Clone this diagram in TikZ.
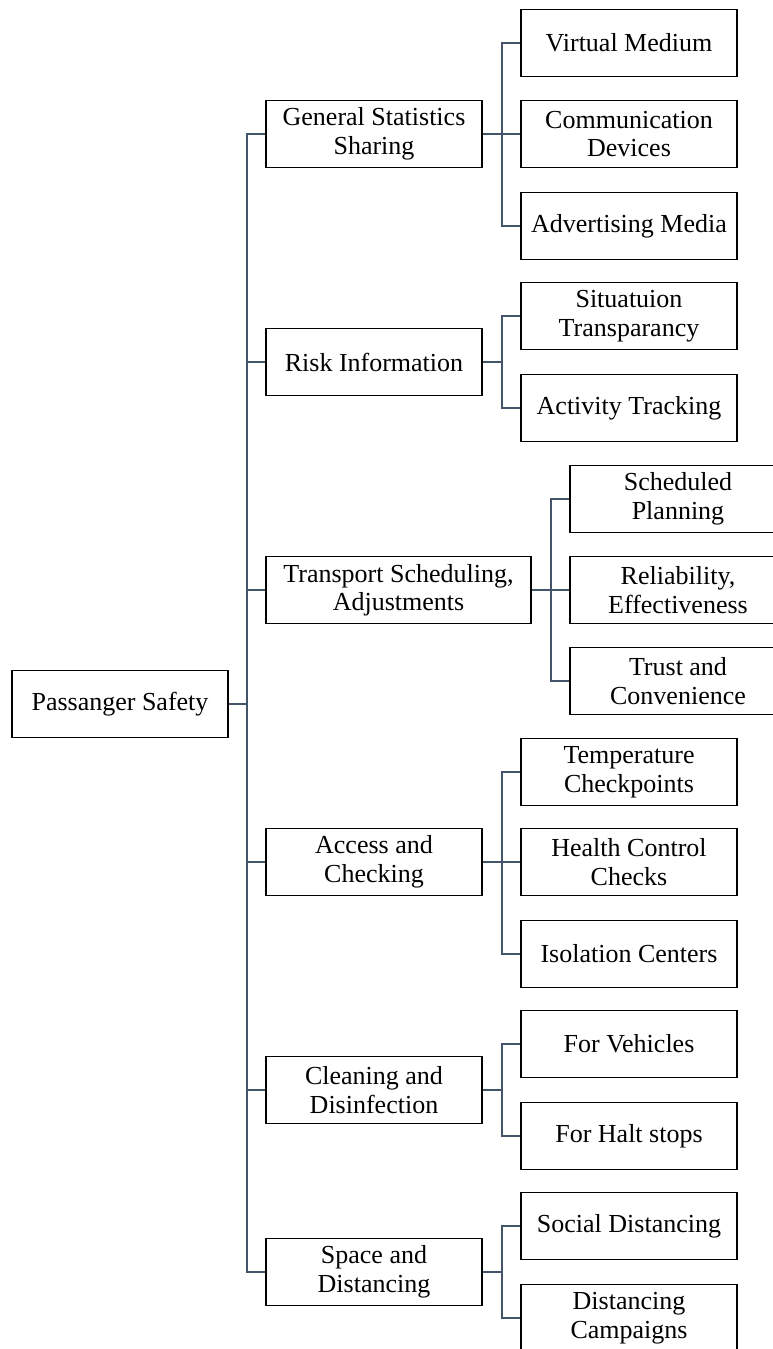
\documentclass[tikz,border=0pt]{standalone}
\usepackage{fontspec}
\setmainfont{Liberation Serif}
\definecolor{linec}{HTML}{44546A}
\begin{document}
\begin{tikzpicture}[x=1pt,y=-1pt,
  box/.style={draw=black,line width=1.8pt,fill=white,minimum width=216pt,minimum height=67pt,
    align=center,inner sep=0pt,font=\fontsize{26}{28.5}\selectfont},
  wbox/.style={box,minimum width=265pt},
  conn/.style={draw=linec,line width=2.6pt}]
\useasboundingbox (0,0) rectangle (773,1349);
% root
\node[box] (root) at (120,704) {Passanger Safety};
% level 1
\node[box] (g1) at (374,134) {General Statistics\\Sharing};
\node[box] (g2) at (374,362) {Risk Information};
\node[wbox] (g3) at (398.5,590) {Transport Scheduling,\\Adjustments};
\node[box] (g4) at (374,862) {Access and\\Checking};
\node[box] (g5) at (374,1090) {Cleaning and\\Disinfection};
\node[box] (g6) at (374,1272) {Space and\\Distancing};
% level 2
\node[box] (c11) at (629,43) {Virtual Medium};
\node[box] (c12) at (629,134) {Communication\\Devices};
\node[box] (c13) at (629,226) {Advertising Media};
\node[box] (c21) at (629,316) {Situatuion\\Transparancy};
\node[box] (c22) at (629,408) {Activity Tracking};
\node[box] (c31) at (678,499) {Scheduled\\Planning};
\node[box] (c32) at (678,590) {Reliability,\\Effectiveness};
\node[box] (c33) at (678,681) {Trust and\\Convenience};
\node[box] (c41) at (629,772) {Temperature\\Checkpoints};
\node[box] (c42) at (629,862) {Health Control\\Checks};
\node[box] (c43) at (629,954) {Isolation Centers};
\node[box] (c51) at (629,1044) {For Vehicles};
\node[box] (c52) at (629,1136) {For Halt stops};
\node[box] (c61) at (629,1226) {Social Distancing};
\node[box] (c62) at (629,1318) {Distancing\\Campaigns};
% connectors
\foreach \g in {g1,g2,g3,g4,g5,g6}
  \draw[conn] (root.east) -- ++(18,0) |- (\g.west);
\foreach \c in {c11,c12,c13}
  \draw[conn] (g1.east) -- ++(19,0) |- (\c.west);
\foreach \c in {c21,c22}
  \draw[conn] (g2.east) -- ++(19,0) |- (\c.west);
\foreach \c in {c31,c32,c33}
  \draw[conn] (g3.east) -- ++(19,0) |- (\c.west);
\foreach \c in {c41,c42,c43}
  \draw[conn] (g4.east) -- ++(19,0) |- (\c.west);
\foreach \c in {c51,c52}
  \draw[conn] (g5.east) -- ++(19,0) |- (\c.west);
\foreach \c in {c61,c62}
  \draw[conn] (g6.east) -- ++(19,0) |- (\c.west);
\end{tikzpicture}
\end{document}
